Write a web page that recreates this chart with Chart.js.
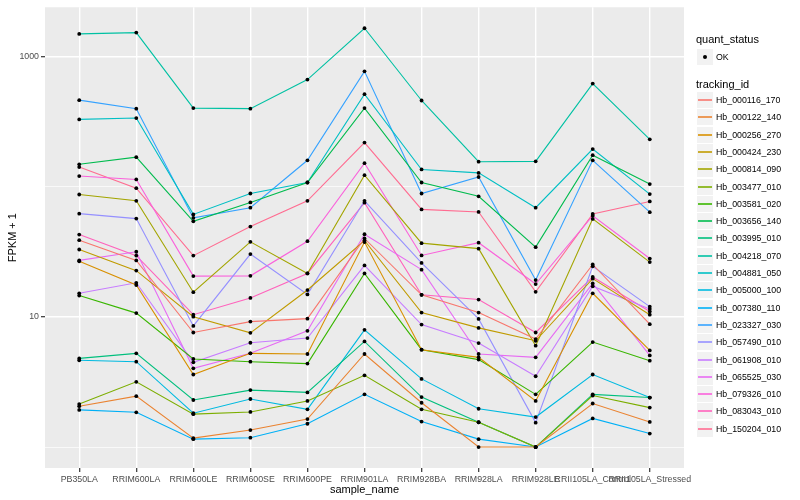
<!DOCTYPE html>
<html>
<head>
<meta charset="utf-8">
<script src="https://cdn.jsdelivr.net/npm/chart.js@4.4.0/dist/chart.umd.min.js"></script>
<style>
  html, body { margin: 0; padding: 0; background: #fff; }
  #wrap { position: relative; width: 800px; height: 500px; font-family: "Liberation Sans", Arial, sans-serif; }
  #chart { position: absolute; left: 0; top: 0; }
  .lg-title { position: absolute; left: 696px; font-size: 11px; line-height: 13px; color: #000; white-space: nowrap; }
  .lg-key { position: absolute; left: 697px; width: 16px; height: 16px; background: #F2F2F2; }
  .lg-line { position: absolute; left: 1px; right: 1px; top: 7px; height: 2px; opacity: 0.8; }
  .lg-dot { position: absolute; left: 6px; top: 6px; width: 4px; height: 4px; border-radius: 2px; background: #000; }
  .lg-label { position: absolute; left: 716px; font-size: 8.8px; line-height: 10px; color: #000; white-space: nowrap; }
</style>
</head>
<body>
<div id="wrap">
  <canvas id="chart" width="800" height="500"></canvas>
  <div id="legend"></div>
</div>
<script>
"use strict";

// Categories (x axis)
var sampleNames = ["PB350LA", "RRIM600LA", "RRIM600LE", "RRIM600SE", "RRIM600PE", "RRIM901LA",
    "RRIM928BA", "RRIM928LA", "RRIM928LE", "RRII105LA_Control", "RRII105LA_Stressed"];

// y ticks shown on the log axis (labelled) and the minor grid values
var yTickLabels = [10, 1000];
var yMinorTicks = [1, 100];

// FPKM + 1 per tracking_id
var hb000116_170 = [38.9, 27.2, 7.59, 9.21, 9.70, 40.1, 14.8, 10.8, 6.76, 25.3, 8.80];
var hb000122_140 = [2.06, 2.46, 1.17, 1.35, 1.64, 5.19, 2.19, 1.00, 1.00, 2.16, 1.56];
var hb000256_270 = [26.8, 17.6, 3.61, 5.25, 5.19, 37.6, 5.60, 4.89, 2.26, 15.2, 5.53];
var hb000424_230 = [33.0, 22.7, 10.05, 7.55, 16.1, 38.7, 10.8, 8.24, 6.56, 19.7, 10.4];
var hb000814_090 = [87.3, 78.1, 15.5, 37.8, 21.6, 123, 36.9, 33.5, 6.01, 56.7, 26.4];
var hb003477_010 = [2.14, 3.17, 1.79, 1.86, 2.26, 3.56, 1.95, 1.55, 1.00, 2.49, 2.01];
var hb003581_020 = [14.6, 10.7, 4.75, 4.53, 4.38, 21.6, 5.60, 4.70, 2.54, 6.41, 4.61];
var hb003656_140 = [149, 169, 54.3, 75.9, 108, 403, 108, 84.6, 34.4, 175, 105];
var hb003995_010 = [4.80, 5.25, 2.30, 2.74, 2.63, 6.48, 2.42, 1.55, 1.00, 2.54, 2.40];
var hb004218_070 = [1498, 1533, 403, 399, 668, 1656, 461, 156, 157, 622, 232];
var hb004881_050 = [330, 338, 61.4, 88.9, 108, 516, 136, 128, 69.1, 195, 88.0];
var hb005000_100 = [4.64, 4.53, 1.82, 2.34, 1.95, 7.96, 3.34, 1.97, 1.70, 3.61, 2.40];
var hb007380_110 = [1.93, 1.85, 1.15, 1.18, 1.51, 2.54, 1.57, 1.15, 1.00, 1.66, 1.27];
var hb023327_030 = [464, 399, 57.7, 69.1, 160, 772, 88.9, 119, 19.2, 160, 63.9];
var hb057490_010 = [62.2, 57.0, 8.53, 30.4, 14.9, 78.1, 26.0, 9.66, 1.54, 24.5, 12.0];
var hb061908_010 = [15.2, 18.3, 4.48, 6.33, 6.88, 24.9, 8.73, 6.30, 3.50, 17.2, 11.5];
var hb065525_030 = [27.2, 31.7, 4.03, 5.25, 7.82, 43.2, 23.1, 5.19, 4.89, 18.1, 5.06];
var hb079326_010 = [121, 114, 20.6, 20.7, 38.2, 152, 29.7, 37.2, 17.9, 60.0, 28.1];
var hb083043_010 = [43.0, 29.6, 10.4, 14.0, 21.6, 75.5, 14.8, 13.6, 7.59, 20.3, 11.0];
var hb150204_010 = [142, 97.7, 29.6, 49.5, 78.1, 219, 67.1, 64.1, 15.6, 61.9, 77.2];

var trackingIds = ["Hb_000116_170", "Hb_000122_140", "Hb_000256_270", "Hb_000424_230", "Hb_000814_090",
    "Hb_003477_010", "Hb_003581_020", "Hb_003656_140", "Hb_003995_010", "Hb_004218_070",
    "Hb_004881_050", "Hb_005000_100", "Hb_007380_110", "Hb_023327_030", "Hb_057490_010",
    "Hb_061908_010", "Hb_065525_030", "Hb_079326_010", "Hb_083043_010", "Hb_150204_010"];

var seriesValues = [hb000116_170, hb000122_140, hb000256_270, hb000424_230, hb000814_090,
    hb003477_010, hb003581_020, hb003656_140, hb003995_010, hb004218_070,
    hb004881_050, hb005000_100, hb007380_110, hb023327_030, hb057490_010,
    hb061908_010, hb065525_030, hb079326_010, hb083043_010, hb150204_010];

// ggplot default hue palette for 20 groups
var seriesColors = ["#F8766D", "#EA8331", "#D89000", "#C09B00", "#A3A500", "#7CAE00", "#39B600",
    "#00BB4E", "#00BF7D", "#00C1A3", "#00BFC4", "#00BAE0", "#00B0F6", "#35A2FF", "#9590FF",
    "#C77CFF", "#E76BF3", "#FA62DB", "#FF62BC", "#FF6C91"];

var FONT = '"Liberation Sans", Arial, sans-serif';

function toPoints(values) {
    return values.map(function (v, i) { return { x: i, y: v }; });
}

// lines underneath, black points on top
var datasets = [];
seriesValues.forEach(function (values, i) {
    datasets.push({
        label: trackingIds[i],
        data: toPoints(values),
        borderColor: seriesColors[i],
        backgroundColor: seriesColors[i],
        borderWidth: 1.1,
        pointRadius: 0,
        tension: 0,
        fill: false,
        order: 2
    });
});
seriesValues.forEach(function (values, i) {
    datasets.push({
        label: trackingIds[i] + " OK",
        data: toPoints(values),
        showLine: false,
        pointRadius: 1.9,
        pointBackgroundColor: "#000000",
        pointBorderWidth: 0,
        order: 1
    });
});

var panelBg = {
    id: "panelBg",
    beforeDraw: function (chart) {
        var a = chart.chartArea;
        var ctx = chart.ctx;
        ctx.save();
        ctx.fillStyle = "#EBEBEB";
        ctx.fillRect(a.left, a.top, a.right - a.left, a.bottom - a.top);
        ctx.restore();
    }
};

function isMajorY(ctx) {
    return ctx.tick && yTickLabels.indexOf(ctx.tick.value) !== -1;
}

var config = {
    type: "line",
    data: { datasets: datasets },
    options: {
        responsive: false,
        animation: false,
        devicePixelRatio: 1,
        layout: { padding: { top: 5, right: 116, left: 0, bottom: 0 } },
        plugins: {
            legend: { display: false },
            tooltip: { enabled: false }
        },
        scales: {
            x: {
                type: "linear",
                min: -0.6,
                max: sampleNames.length - 1 + 0.6,
                afterBuildTicks: function (scale) {
                    scale.ticks = sampleNames.map(function (n, i) { return { value: i }; });
                },
                afterFit: function (scale) { scale.height = 32; },
                ticks: {
                    autoSkip: false,
                    maxRotation: 0,
                    minRotation: 0,
                    padding: 2,
                    color: "#4D4D4D",
                    font: { family: FONT, size: 8.8 },
                    callback: function (value) { return sampleNames[value]; }
                },
                grid: {
                    color: "#FFFFFF",
                    lineWidth: 1.4,
                    drawTicks: true,
                    tickLength: 4,
                    tickColor: "#333333",
                    tickWidth: 1.2
                },
                border: { display: false },
                title: {
                    display: true,
                    text: "sample_name",
                    color: "#000000",
                    font: { family: FONT, size: 11 },
                    padding: { top: 2, bottom: 3 }
                }
            },
            y: {
                type: "logarithmic",
                min: 0.69,
                max: 2400,
                afterBuildTicks: function (scale) {
                    scale.ticks = yMinorTicks.concat(yTickLabels).sort(function (a, b) { return a - b; })
                        .map(function (v) { return { value: v }; });
                },
                afterFit: function (scale) { scale.width = 45; },
                ticks: {
                    autoSkip: false,
                    padding: 2,
                    color: "#4D4D4D",
                    font: { family: FONT, size: 8.8 },
                    callback: function (value) {
                        return yTickLabels.indexOf(value) !== -1 ? String(value) : "";
                    }
                },
                grid: {
                    color: "#FFFFFF",
                    lineWidth: function (ctx) { return isMajorY(ctx) ? 1.4 : 0.7; },
                    drawTicks: true,
                    tickLength: 4,
                    tickColor: function (ctx) { return isMajorY(ctx) ? "#333333" : "rgba(0,0,0,0)"; },
                    tickWidth: 1.2
                },
                border: { display: false },
                title: {
                    display: true,
                    text: "FPKM + 1",
                    color: "#000000",
                    font: { family: FONT, size: 11 },
                    padding: { top: 6, bottom: 2 }
                }
            }
        }
    },
    plugins: [panelBg]
};

new Chart(document.getElementById("chart").getContext("2d"), config);

// Legend drawn as HTML next to the panel
var legend = document.getElementById("legend");
function add(html) { legend.insertAdjacentHTML("beforeend", html); }

add('<div class="lg-title" style="top:33px">quant_status</div>');
add('<div class="lg-key" style="top:49px"><div class="lg-dot"></div></div>');
add('<div class="lg-label" style="top:52px">OK</div>');
add('<div class="lg-title" style="top:78px">tracking_id</div>');

trackingIds.forEach(function (id, i) {
    var cy = Math.round(100 + i * 17.3);
    add('<div class="lg-key" style="top:' + (cy - 8) + 'px">' +
        '<div class="lg-line" style="background:' + seriesColors[i] + '"></div></div>');
    add('<div class="lg-label" style="top:' + (cy - 5) + 'px">' + id + '</div>');
});
</script>
</body>
</html>
